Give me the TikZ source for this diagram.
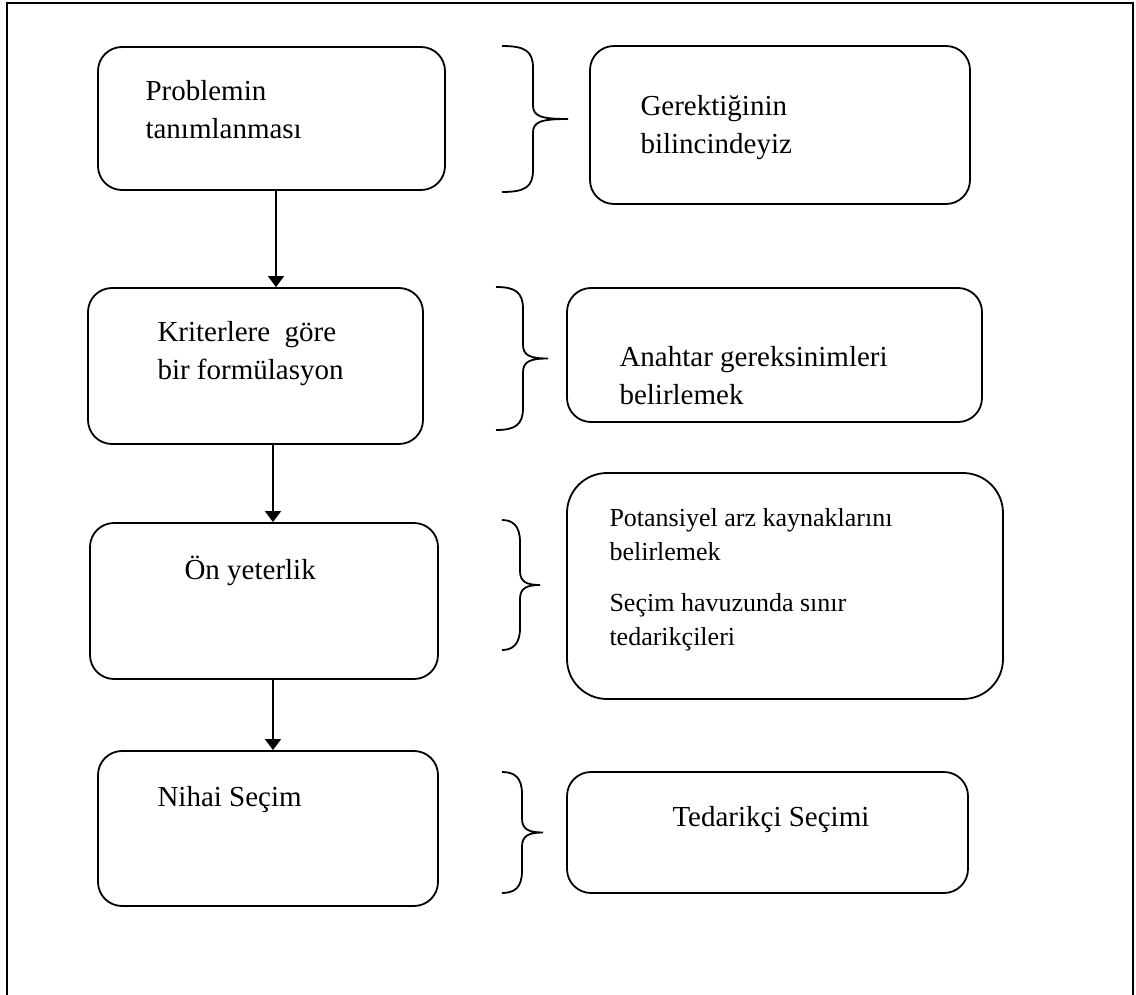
\documentclass[tikz,border=0pt]{standalone}
\usepackage{fontspec}
\setmainfont{Liberation Serif}
\usetikzlibrary{arrows.meta,positioning}

% right-pointing curly bracket: left x, stem x, tip x, top y, bottom y
\newcommand{\sagkume}[5]{%
  \draw[line width=0.9pt] (#1,#4) .. controls ({#2-8},#4) and (#2,{#4+5}) .. (#2,{#4+22})
    -- (#2,{(#4+#5)/2-14}) .. controls (#2,{(#4+#5)/2-3}) and ({#2+7},{(#4+#5)/2}) .. (#3,{(#4+#5)/2})
    .. controls ({#2+7},{(#4+#5)/2}) and (#2,{(#4+#5)/2+3}) .. (#2,{(#4+#5)/2+14})
    -- (#2,{#5-22}) .. controls (#2,{#5-5}) and ({#2-8},#5) .. (#1,#5);}

\begin{document}
\begin{tikzpicture}[
  x=0.5pt, y=-0.5pt,
  every node/.style={font=\fontsize{14.5}{19}\selectfont},
  box/.style={rectangle, draw, rounded corners=12pt, line width=0.9pt, inner sep=0pt},
  txt/.style={align=left, inner sep=0pt, anchor=base west},
  smalltxt/.style={txt, font=\fontsize{13}{17}\selectfont},
  >={Triangle[length=5.5pt, width=8pt]},
]
  \useasboundingbox (0,0) rectangle (1136,995);
  % page frame, open at the bottom
  \draw[line width=0.9pt] (7,995) -- (7,3) -- (1133,3) -- (1133,995);

  % steps on the left
  \node[box, minimum width=173.5pt, minimum height=71.5pt] (prob) at (271.5,118.5) {};
  \node[box, minimum width=167.5pt, minimum height=78pt] (krit) at (255.5,366) {};
  \node[box, minimum width=174pt, minimum height=78pt] (onyet) at (264,601) {};
  \node[box, minimum width=170pt, minimum height=77.5pt] (nihai) at (268,828.5) {};

  \node[txt] (probtxt) at ([shift={(48,92)}]prob.north west) {Problemin\\tanımlanması};
  \node[txt] (krittxt) at ([shift={(70,92)}]krit.north west) {Kriterlere\ \ göre\\bir formülasyon};
  \node[txt] (onyettxt) at ([shift={(95,57)}]onyet.north west) {Ön yeterlik};
  \node[txt] (nihaitxt) at ([shift={(60,56)}]nihai.north west) {Nihai Seçim};

  % notes on the right
  \node[box, minimum width=190pt, minimum height=79pt] (bilinc) at (780,125) {};
  \node[box, minimum width=207.5pt, minimum height=67pt] (anahtar) at (774.5,355) {};
  \node[box, rounded corners=20pt, minimum width=218pt, minimum height=113pt] (kaynak) at (785,586) {};
  \node[box, minimum width=200.5pt, minimum height=60.5pt] (tedarik) at (767.5,832.5) {};

  \node[txt] (bilinctxt) at ([shift={(51,108)}]bilinc.north west) {Gerektiğinin\\bilincindeyiz};
  \node[txt] (anahtartxt) at ([shift={(53,117)}]anahtar.north west) {Anahtar gereksinimleri\\belirlemek};
  \node[smalltxt] (kaynaktxt) at ([shift={(43,88)}]kaynak.north west) {Potansiyel arz kaynaklarını\\belirlemek};
  \node[smalltxt] (havuztxt) at ([shift={(43,173)}]kaynak.north west) {Seçim havuzunda sınır\\tedarikçileri};
  \node[txt] (tedariktxt) at ([shift={(106,55)}]tedarik.north west) {Tedarikçi Seçimi};

  % brackets
  \sagkume{502}{533}{568}{46}{192}
  \sagkume{496}{523}{548}{287}{430}
  \sagkume{502}{520}{540}{520}{650}
  \sagkume{502}{522}{543}{772}{893}

  % arrows between steps
  \draw[->, line width=0.9pt] ([xshift=2.25pt]prob.south) -- ([xshift=2.25pt]prob.south |- krit.north);
  \draw[->, line width=0.9pt] ([xshift=8.75pt]krit.south) -- ([xshift=8.75pt]krit.south |- onyet.north);
  \draw[->, line width=0.9pt] ([xshift=4.5pt]onyet.south) -- ([xshift=4.5pt]onyet.south |- nihai.north);
\end{tikzpicture}
\end{document}
